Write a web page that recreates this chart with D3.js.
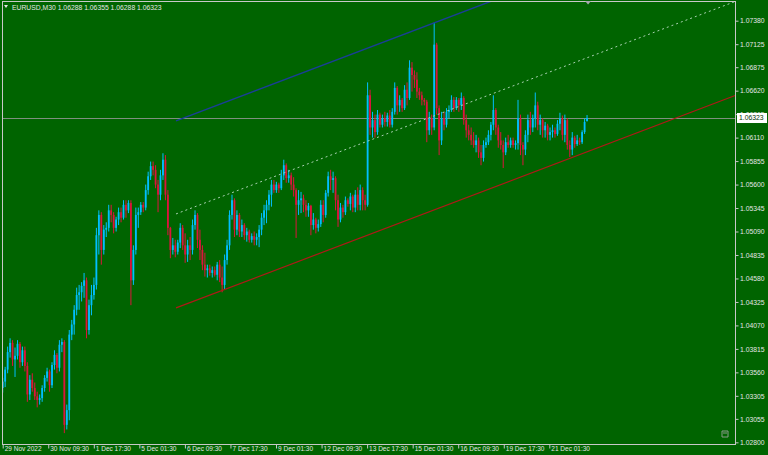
<!DOCTYPE html>
<html><head><meta charset="utf-8">
<script src="https://cdn.jsdelivr.net/npm/d3@7"></script>
<style>html,body{margin:0;padding:0;background:#006400;overflow:hidden}</style>
</head><body>
<svg id="c" width="768" height="455"></svg>
<script>
const symbol = "EURUSD,M30";
const opens = [
1.0339,1.0346,1.0359,1.0378,1.0388,1.0370,1.0374,1.0387,1.0367,1.0380,
1.0363,1.0332,1.0348,1.0339,1.0330,1.0326,1.0328,1.0339,1.0350,1.0357,
1.0342,1.0364,1.0375,1.0361,1.0386,1.0389,1.0299,1.0315,1.0397,1.0408,
1.0424,1.0440,1.0443,1.0450,1.0456,1.0402,1.0429,1.0440,1.0451,1.0505,
1.0527,1.0489,1.0511,1.0513,1.0532,1.0527,1.0513,1.0522,1.0530,1.0524,
1.0538,1.0532,1.0540,1.0456,1.0489,1.0527,1.0530,1.0538,1.0535,1.0554,
1.0569,1.0580,1.0576,1.0560,1.0549,1.0570,1.0587,1.0549,1.0513,1.0489,
1.0494,1.0487,1.0497,1.0513,1.0494,1.0484,1.0494,1.0489,1.0516,1.0527,
1.0500,1.0489,1.0473,1.0467,1.0469,1.0464,1.0467,1.0462,1.0473,1.0459,
1.0451,1.0478,1.0494,1.0527,1.0543,1.0511,1.0527,1.0509,1.0516,1.0505,
1.0509,1.0500,1.0504,1.0500,1.0503,1.0511,1.0524,1.0532,1.0538,1.0549,
1.0560,1.0554,1.0560,1.0556,1.0570,1.0581,1.0567,1.0570,1.0560,1.0554,
1.0538,1.0543,1.0545,1.0538,1.0532,1.0537,1.0516,1.0522,1.0513,1.0517,
1.0538,1.0527,1.0551,1.0569,1.0565,1.0567,1.0543,1.0522,1.0535,1.0530,
1.0543,1.0539,1.0547,1.0535,1.0549,1.0538,1.0554,1.0543,1.0538,1.0657,
1.0622,1.0630,1.0617,1.0636,1.0625,1.0632,1.0628,1.0635,1.0625,1.0639,
1.0665,1.0646,1.0652,1.0643,1.0663,1.0654,1.0687,1.0679,1.0674,1.0661,
1.0657,1.0652,1.0650,1.0619,1.0632,1.0622,1.0712,1.0643,1.0608,1.0632,
1.0625,1.0639,1.0641,1.0652,1.0643,1.0652,1.0646,1.0654,1.0630,1.0619,
1.0614,1.0608,1.0603,1.0608,1.0595,1.0589,1.0603,1.0606,1.0614,1.0625,
1.0641,1.0622,1.0608,1.0603,1.0595,1.0606,1.0603,1.0608,1.0603,1.0605,
1.0632,1.0603,1.0598,1.0614,1.0630,1.0622,1.0632,1.0646,1.0625,1.0630,
1.0619,1.0624,1.0614,1.0617,1.0619,1.0615,1.0626,1.0632,1.0614,1.0630,
1.0603,1.0598,1.0611,1.0604,1.0608,1.0606,1.0617,1.06288];
const highs = [
1.0350,1.0362,1.0384,1.0393,1.0391,1.0383,1.0391,1.0389,1.0384,1.0384,
1.0367,1.0353,1.0355,1.0345,1.0335,1.0332,1.0342,1.0353,1.0361,1.0359,
1.0367,1.0380,1.0377,1.0391,1.0393,1.0391,1.0321,1.0402,1.0413,1.0429,
1.0448,1.0451,1.0454,1.0464,1.0459,1.0435,1.0451,1.0459,1.0513,1.0532,
1.0530,1.0516,1.0519,1.0538,1.0538,1.0530,1.0525,1.0535,1.0535,1.0543,
1.0543,1.0543,1.0543,1.0494,1.0535,1.0535,1.0541,1.0541,1.0560,1.0574,
1.0585,1.0585,1.0581,1.0565,1.0576,1.0594,1.0592,1.0554,1.0514,1.0502,
1.0500,1.0500,1.0518,1.0516,1.0507,1.0500,1.0503,1.0522,1.0532,1.0529,
1.0511,1.0494,1.0486,1.0473,1.0473,1.0471,1.0471,1.0476,1.0478,1.0471,
1.0484,1.0500,1.0532,1.0549,1.0545,1.0532,1.0529,1.0522,1.0518,1.0513,
1.0511,1.0507,1.0509,1.0507,1.0516,1.0529,1.0538,1.0543,1.0554,1.0565,
1.0565,1.0563,1.0562,1.0576,1.0587,1.0583,1.0576,1.0573,1.0568,1.0556,
1.0554,1.0552,1.0549,1.0543,1.0540,1.0538,1.0529,1.0524,1.0522,1.0543,
1.0543,1.0554,1.0574,1.0576,1.0574,1.0569,1.0549,1.0540,1.0538,1.0547,
1.0545,1.0551,1.0549,1.0554,1.0557,1.0560,1.0557,1.0549,1.0671,1.0663,
1.0639,1.0636,1.0641,1.0638,1.0636,1.0639,1.0638,1.0641,1.0643,1.0671,
1.0667,1.0657,1.0654,1.0668,1.0671,1.0695,1.0693,1.0684,1.0682,1.0665,
1.0661,1.0654,1.0652,1.0639,1.0636,1.0736,1.0714,1.0646,1.0639,1.0639,
1.0643,1.0646,1.0657,1.0655,1.0655,1.0654,1.0660,1.0656,1.0636,1.0625,
1.0622,1.0617,1.0614,1.0611,1.0603,1.0608,1.0611,1.0619,1.0628,1.0657,
1.0643,1.0625,1.0617,1.0608,1.0611,1.0614,1.0611,1.0611,1.0608,1.0652,
1.0636,1.0606,1.0619,1.0636,1.0639,1.0636,1.0660,1.0650,1.0636,1.0632,
1.0628,1.0626,1.0622,1.0625,1.0622,1.0630,1.0638,1.0635,1.0636,1.0632,
1.0608,1.0617,1.0613,1.0614,1.0611,1.0619,1.0632,1.06355];
const lows = [
1.0334,1.0340,1.0355,1.0372,1.0363,1.0351,1.0370,1.0361,1.0363,1.0357,
1.0324,1.0326,1.0335,1.0326,1.0318,1.0321,1.0324,1.0335,1.0346,1.0335,
1.0339,1.0359,1.0355,1.0357,1.0378,1.0290,1.0294,1.0304,1.0391,1.0397,
1.0418,1.0424,1.0433,1.0437,1.0393,1.0397,1.0418,1.0435,1.0446,1.0484,
1.0473,1.0484,1.0503,1.0509,1.0519,1.0507,1.0509,1.0516,1.0519,1.0522,
1.0524,1.0529,1.0429,1.0451,1.0484,1.0513,1.0527,1.0530,1.0532,1.0549,
1.0565,1.0570,1.0556,1.0530,1.0543,1.0565,1.0543,1.0505,1.0480,1.0484,
1.0481,1.0484,1.0491,1.0489,1.0475,1.0476,1.0478,1.0484,1.0511,1.0491,
1.0478,1.0467,1.0460,1.0459,1.0461,1.0459,1.0460,1.0456,1.0454,1.0443,
1.0446,1.0473,1.0489,1.0522,1.0503,1.0505,1.0503,1.0503,1.0500,1.0498,
1.0497,1.0497,1.0494,1.0494,1.0492,1.0505,1.0516,1.0518,1.0532,1.0536,
1.0551,1.0551,1.0551,1.0554,1.0565,1.0562,1.0562,1.0554,1.0547,1.0502,
1.0527,1.0529,1.0530,1.0525,1.0525,1.0505,1.0511,1.0507,1.0509,1.0514,
1.0519,1.0524,1.0547,1.0554,1.0551,1.0532,1.0514,1.0519,1.0524,1.0527,
1.0536,1.0532,1.0530,1.0530,1.0532,1.0532,1.0532,1.0532,1.0536,1.0614,
1.0611,1.0611,1.0614,1.0622,1.0622,1.0623,1.0623,1.0622,1.0622,1.0636,
1.0636,1.0639,1.0639,1.0641,1.0646,1.0652,1.0661,1.0665,1.0654,1.0652,
1.0646,1.0646,1.0606,1.0614,1.0614,1.0619,1.0636,1.0592,1.0603,1.0619,
1.0622,1.0632,1.0639,1.0639,1.0641,1.0639,1.0641,1.0625,1.0611,1.0608,
1.0603,1.0600,1.0595,1.0589,1.0581,1.0585,1.0600,1.0603,1.0608,1.0619,
1.0614,1.0600,1.0598,1.0578,1.0592,1.0600,1.0600,1.0600,1.0598,1.0598,
1.0592,1.0581,1.0592,1.0606,1.0614,1.0617,1.0622,1.0619,1.0614,1.0611,
1.0611,1.0608,1.0608,1.0611,1.0611,1.0613,1.0619,1.0608,1.0606,1.0598,
1.0590,1.0592,1.0600,1.0602,1.0603,1.0604,1.0615,1.06288];
const closes = [
1.0346,1.0359,1.0378,1.0388,1.0370,1.0374,1.0387,1.0367,1.0380,1.0363,
1.0332,1.0348,1.0339,1.0330,1.0326,1.0328,1.0339,1.0350,1.0357,1.0342,
1.0364,1.0375,1.0361,1.0386,1.0389,1.0299,1.0315,1.0397,1.0408,1.0424,
1.0440,1.0443,1.0450,1.0456,1.0402,1.0429,1.0440,1.0451,1.0505,1.0527,
1.0489,1.0511,1.0513,1.0532,1.0527,1.0513,1.0522,1.0530,1.0524,1.0538,
1.0532,1.0540,1.0456,1.0489,1.0527,1.0530,1.0538,1.0535,1.0554,1.0569,
1.0580,1.0576,1.0560,1.0549,1.0570,1.0587,1.0549,1.0513,1.0489,1.0494,
1.0487,1.0497,1.0513,1.0494,1.0484,1.0494,1.0489,1.0516,1.0527,1.0500,
1.0489,1.0473,1.0467,1.0469,1.0464,1.0467,1.0462,1.0473,1.0459,1.0451,
1.0478,1.0494,1.0527,1.0543,1.0511,1.0527,1.0509,1.0516,1.0505,1.0509,
1.0500,1.0504,1.0500,1.0503,1.0511,1.0524,1.0532,1.0538,1.0549,1.0560,
1.0554,1.0560,1.0556,1.0570,1.0581,1.0567,1.0570,1.0560,1.0554,1.0538,
1.0543,1.0545,1.0538,1.0532,1.0537,1.0516,1.0522,1.0513,1.0517,1.0538,
1.0527,1.0551,1.0569,1.0565,1.0567,1.0543,1.0522,1.0535,1.0530,1.0543,
1.0539,1.0547,1.0535,1.0549,1.0538,1.0554,1.0543,1.0538,1.0657,1.0622,
1.0630,1.0617,1.0636,1.0625,1.0632,1.0628,1.0635,1.0625,1.0639,1.0665,
1.0646,1.0652,1.0643,1.0663,1.0654,1.0687,1.0679,1.0674,1.0661,1.0657,
1.0652,1.0650,1.0619,1.0632,1.0622,1.0712,1.0643,1.0608,1.0632,1.0625,
1.0639,1.0641,1.0652,1.0643,1.0652,1.0646,1.0654,1.0630,1.0619,1.0614,
1.0608,1.0603,1.0608,1.0595,1.0589,1.0603,1.0606,1.0614,1.0625,1.0641,
1.0622,1.0608,1.0603,1.0595,1.0606,1.0603,1.0608,1.0603,1.0605,1.0632,
1.0603,1.0598,1.0614,1.0630,1.0622,1.0632,1.0646,1.0625,1.0630,1.0619,
1.0624,1.0614,1.0617,1.0619,1.0615,1.0626,1.0632,1.0614,1.0630,1.0603,
1.0598,1.0611,1.0604,1.0608,1.0606,1.0617,1.0628,1.06323];
const timeLabels = ["29 Nov 2022","30 Nov 09:30","1 Dec 17:30","5 Dec 01:30","6 Dec 09:30","7 Dec 17:30","9 Dec 01:30","12 Dec 09:30","13 Dec 17:30","15 Dec 01:30","16 Dec 09:30","19 Dec 17:30","21 Dec 01:30"];
const barsPerLabel = 64;
const priceTicks = [1.07380,1.07125,1.06875,1.06620,1.06365,1.06110,1.05855,1.05600,1.05345,1.05090,1.04835,1.04580,1.04325,1.04070,1.03815,1.03560,1.03305,1.03055,1.02800];
const barsShown = 821;      // bars covered by the candles
const barsVisible = 1030;   // bars that fit in the window
// channel lines: [startBar, startPrice, endBar, endPrice]
const channelUpper = [243.5, 1.06291, 1030, 1.08601];
const channelMid   = [243.5, 1.05281, 1030, 1.07591];
const channelLower = [243.5, 1.04260, 1030, 1.06570];

const W = 768, H = 455;
const plot = {l: 2, t: 1, r: 736, b: 445};
const svg = d3.select("#c");
svg.append("rect").attr("width", W).attr("height", H).attr("fill", "#006400");

const x = d3.scaleLinear().domain([0, barsVisible]).range([2.7, 735.8]);
const y = d3.scaleLinear().domain([1.02771, 1.07594]).range([plot.b, plot.t]);

svg.append("clipPath").attr("id", "clip").append("rect")
  .attr("x", plot.l).attr("y", plot.t).attr("width", plot.r - plot.l).attr("height", plot.b - plot.t);

const N = opens.length;
const candles = d3.range(N).map(i => ({bar: i * barsShown / (N - 1), o: opens[i], h: highs[i], l: lows[i], c: closes[i]}));
const bull = "#00bfff", bear = "#dc143c";

const g = svg.append("g").attr("clip-path", "url(#clip)");
// current price line
const lastClose = closes[N - 1];
g.append("line").attr("x1", plot.l).attr("x2", plot.r)
  .attr("y1", Math.round(y(lastClose)) + 0.5).attr("y2", Math.round(y(lastClose)) + 0.5)
  .attr("stroke", "#7f907f").attr("stroke-width", 1);

const cg = g.append("g");
cg.selectAll("line.w").data(candles).join("line").attr("class", "w")
  .attr("x1", d => x(d.bar)).attr("x2", d => x(d.bar))
  .attr("y1", d => y(d.h)).attr("y2", d => y(d.l))
  .attr("stroke", d => d.c >= d.o ? bull : bear).attr("stroke-width", 1);
cg.selectAll("rect.b").data(candles).join("rect").attr("class", "b")
  .attr("x", d => x(d.bar) - 0.9).attr("width", 1.8)
  .attr("y", d => y(Math.max(d.o, d.c)))
  .attr("height", d => Math.max(0.8, Math.abs(y(d.o) - y(d.c))))
  .attr("fill", d => d.c >= d.o ? bull : bear);

// channel
const chan = [
  {p: channelUpper, color: "#1a3e98", w: 1.4, dash: null},
  {p: channelMid, color: "#a8d0b0", w: 1, dash: "2,3"},
  {p: channelLower, color: "#b01818", w: 1.2, dash: null}
];
g.selectAll("line.ch").data(chan).join("line").attr("class", "ch")
  .attr("x1", d => x(d.p[0])).attr("y1", d => y(d.p[1]))
  .attr("x2", d => x(d.p[2])).attr("y2", d => y(d.p[3]))
  .attr("stroke", d => d.color).attr("stroke-width", d => d.w)
  .attr("stroke-dasharray", d => d.dash);

const axisColor = "#c8c8c8", textColor = "#e4e4e4";
const font = "Liberation Sans, Arial, sans-serif";
// frame
svg.append("rect").attr("x", plot.l + 0.5).attr("y", plot.t + 0.5)
  .attr("width", plot.r - plot.l - 1).attr("height", plot.b - plot.t - 1)
  .attr("fill", "none").attr("stroke", axisColor).attr("stroke-width", 1);

// right axis
const ya = svg.append("g").attr("transform", `translate(${plot.r - 0.5},0)`)
  .call(d3.axisRight(y).tickValues(priceTicks).tickFormat(d3.format(".5f")).tickSize(3).tickPadding(1.5));
ya.select(".domain").remove();
ya.selectAll("line").attr("stroke", axisColor);
ya.selectAll("text").attr("fill", textColor).attr("font-family", font).attr("font-size", "6.8px");

// bottom axis
const labelBars = timeLabels.map((_, i) => i * barsPerLabel);
const xa = svg.append("g").attr("transform", `translate(0,${plot.b - 0.5})`)
  .call(d3.axisBottom(x).tickValues(labelBars).tickFormat((d, i) => timeLabels[i]).tickSize(4));
xa.select(".domain").remove();
xa.selectAll("line").attr("stroke", axisColor);
xa.selectAll("text").attr("fill", textColor).attr("font-family", font).attr("font-size", "6.5px")
  .attr("text-anchor", "start").attr("x", 1.5).attr("y", 2).attr("dy", "0.71em");

// current price label
const yl = y(lastClose);
svg.append("rect").attr("x", plot.r + 1).attr("y", yl - 5).attr("width", 30).attr("height", 10)
  .attr("fill", "#ffffff");
svg.append("text").attr("x", plot.r + 3).attr("y", yl).attr("dy", "0.35em")
  .attr("font-family", font).attr("font-size", "6.8px").attr("fill", "#003300")
  .text(d3.format(".5f")(lastClose));

// title
svg.append("path").attr("d", "M4,5 L8,5 L6,8 Z").attr("fill", textColor);
svg.append("text").attr("x", 12).attr("y", 9.5).attr("font-family", font).attr("font-size", "6.8px")
  .attr("fill", textColor)
  .text(`${symbol} ${[opens[N-1], highs[N-1], lows[N-1], closes[N-1]].map(d3.format(".5f")).join(" ")}`);

// chart shift marker at top
const mx = x(barsShown) + 1;
svg.append("path").attr("d", `M${mx-3},1 L${mx+3},1 L${mx},4.5 Z`).attr("fill", "#a8a8b0");
// small icon bottom-right
svg.append("path").attr("d", "M722,431 L728,431 L728,437 L722,437 Z M723,433 L727,433").attr("fill", "none")
  .attr("stroke", "#8a9a8a").attr("stroke-width", 1);
</script>
</body></html>
